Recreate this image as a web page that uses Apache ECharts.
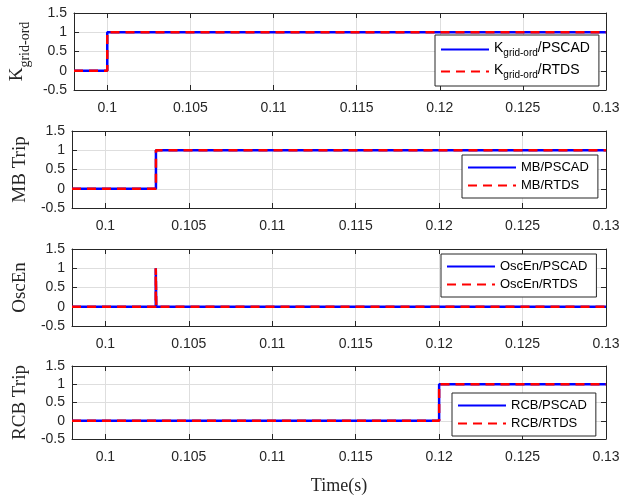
<!DOCTYPE html>
<html><head><meta charset="utf-8">
<script src="https://cdn.jsdelivr.net/npm/echarts@6/dist/echarts.min.js"></script>
<style>html,body{margin:0;padding:0;background:#fff}#c{width:624px;height:496px}</style>
</head><body><div id="c"></div>
<script>
// ---- data ----
const xTicks = [0.1, 0.105, 0.11, 0.115, 0.12, 0.125, 0.13];
const xMin = 0.098, xMax = 0.13;
const yMin = -0.5, yMax = 1.5, yStep = 0.5;

const kTime   = [0.098, 0.1, 0.1, 0.13];
const kPscad  = [0, 0, 1, 1];
const kRtds   = [0, 0, 1, 1];

const mbTime  = [0.098, 0.10303, 0.10303, 0.13];
const mbPscad = [0, 0, 1, 1];
const mbRtds  = [0, 0, 1, 1];

const oscTime  = [0.098, 0.10302, 0.10302, 0.10305, 0.10305, 0.13];
const oscPscad = [0, 0, 1, 1, 0, 0];
const oscRtds  = [0, 0, 1, 1, 0, 0];

const rcbTime  = [0.098, 0.12, 0.12, 0.13];
const rcbPscad = [0, 0, 1, 1];
const rcbRtds  = [0, 0, 1, 1];

const panelLabels = ['{m|K}{s|grid-ord}', 'MB Trip', 'OscEn', 'RCB Trip'];
const seriesNames = [
  ['Kgrid/PSCAD', 'Kgrid/RTDS'],
  ['MB/PSCAD', 'MB/RTDS'],
  ['OscEn/PSCAD', 'OscEn/RTDS'],
  ['RCB/PSCAD', 'RCB/RTDS']
];
const xLabel = 'Time(s)';

// ---- layout ----
const panels = [
  {time: kTime, a: kPscad, b: kRtds},
  {time: mbTime, a: mbPscad, b: mbRtds},
  {time: oscTime, a: oscPscad, b: oscRtds},
  {time: rcbTime, a: rcbPscad, b: rcbRtds}
];
const tops = [13, 131, 249, 366];
const gridH = 77;
const legendPos = [
  {left: 435, top: 35},
  {left: 462, top: 155},
  {left: 441, top: 254},
  {left: 452, top: 393}
];
const axisColor = '#262626';
const tickFont = {fontFamily: 'Liberation Sans, Arial, sans-serif', fontSize: 14, color: '#262626'};

const grid = [], xAxis = [], yAxis = [], series = [], legend = [];
panels.forEach((p, i) => {
  grid.push({left: 72, width: 534, top: tops[i], height: gridH, containLabel: false});
  const lineAx = {show: true, onZero: false, lineStyle: {color: axisColor, width: 1}};
  xAxis.push({
    type: 'value', gridIndex: i, min: xMin, max: xMax, position: 'bottom',
    axisLine: lineAx,
    axisTick: {show: true, inside: true, length: 5, customValues: xTicks, lineStyle: {color: axisColor}},
    axisLabel: Object.assign({show: true, margin: 11, customValues: xTicks, formatter: v => String(+v.toFixed(3))}, tickFont),
    splitLine: {show: true, lineStyle: {color: '#dedede', width: 1}},
    name: i === 3 ? xLabel : '', nameLocation: 'middle', nameGap: 38,
    nameTextStyle: {fontFamily: 'Liberation Serif, Times New Roman, serif', fontSize: 18, color: '#262626'}
  });
  xAxis.push({
    type: 'value', gridIndex: i, min: xMin, max: xMax, position: 'top',
    axisLine: lineAx,
    axisTick: {show: true, inside: true, length: 5, customValues: xTicks, lineStyle: {color: axisColor}},
    axisLabel: {show: false}, splitLine: {show: false}
  });
  yAxis.push({
    type: 'value', gridIndex: i, min: yMin, max: yMax, interval: yStep, position: 'left',
    axisLine: lineAx,
    axisTick: {show: true, inside: true, length: 5, lineStyle: {color: axisColor}},
    axisLabel: Object.assign({show: true, margin: 7, formatter: v => String(v)}, tickFont),
    splitLine: {show: true, lineStyle: {color: '#dedede', width: 1}},
    name: panelLabels[i], nameLocation: 'middle', nameGap: 35,
    nameTextStyle: {
      fontFamily: 'Liberation Serif, Times New Roman, serif', fontSize: 19, color: '#262626',
      rich: {
        m: {fontFamily: 'Liberation Serif, Times New Roman, serif', fontSize: 19, color: '#262626', verticalAlign: 'bottom', padding: [0, 0, 5, 0]},
        s: {fontFamily: 'Liberation Serif, Times New Roman, serif', fontSize: 14, color: '#262626', verticalAlign: 'bottom'}
      }
    }
  });
  yAxis.push({
    type: 'value', gridIndex: i, min: yMin, max: yMax, interval: yStep, position: 'right',
    axisLine: lineAx,
    axisTick: {show: true, inside: true, length: 5, lineStyle: {color: axisColor}},
    axisLabel: {show: false}, splitLine: {show: false}
  });
  const dA = p.time.map((t, k) => [t, p.a[k]]);
  const dB = p.time.map((t, k) => [t, p.b[k]]);
  series.push({
    name: seriesNames[i][0], type: 'line', xAxisIndex: 2 * i, yAxisIndex: 2 * i, data: dA,
    symbol: 'none', animation: false, lineStyle: {color: '#0000ff', width: 2.5, type: 'solid'},
    itemStyle: {color: '#0000ff'}
  });
  series.push({
    name: seriesNames[i][1], type: 'line', xAxisIndex: 2 * i, yAxisIndex: 2 * i, data: dB,
    symbol: 'none', animation: false, lineStyle: {color: '#ff0000', width: 2.5, type: [9, 6]},
    itemStyle: {color: '#ff0000'}
  });
  legend.push({
    data: seriesNames[i], orient: 'vertical', left: legendPos[i].left, top: legendPos[i].top,
    backgroundColor: '#fff', borderColor: '#262626', borderWidth: 1, borderRadius: 0,
    padding: [6, 9, 6, 5], itemGap: 5, itemWidth: 48, itemHeight: 14,
    selectedMode: false,
    itemStyle: {opacity: 0},
    textStyle: {
      fontFamily: 'Liberation Sans, Arial, sans-serif', fontSize: 13, color: '#000',
      rich: {
        t: {fontFamily: 'Liberation Sans, Arial, sans-serif', fontSize: 14, color: '#000', verticalAlign: 'bottom', padding: [0, 0, 3, 0]},
        s: {fontFamily: 'Liberation Sans, Arial, sans-serif', fontSize: 10, color: '#000', verticalAlign: 'bottom'}
      }
    },
    formatter: name => {
      if (name.indexOf('Kgrid') === 0) {
        return '{t|K}{s|grid-ord}{t|' + name.slice(5) + '}';
      }
      return name;
    }
  });
});

const chart = echarts.init(document.getElementById('c'), null, {renderer: 'canvas'});
chart.setOption({animation: false, grid, xAxis, yAxis, series, legend});
</script></body></html>
